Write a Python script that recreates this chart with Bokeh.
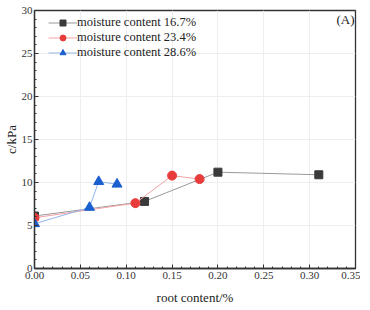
from bokeh.plotting import figure
from bokeh.models import Label, FixedTicker, PrintfTickFormatter, Range1d
from bokeh.embed import file_html
from bokeh.resources import INLINE

# data
x_167 = [0.0, 0.12, 0.20, 0.31]
y_167 = [6.1, 7.8, 11.2, 10.9]
x_234 = [0.0, 0.11, 0.15, 0.18]
y_234 = [5.9, 7.6, 10.8, 10.4]
x_286 = [0.0, 0.06, 0.07, 0.09]
y_286 = [5.2, 7.1, 10.1, 9.8]
labels = ["moisture content 16.7%", "moisture content 23.4%", "moisture content 28.6%"]
x_ticks = [0.0, 0.05, 0.10, 0.15, 0.20, 0.25, 0.30, 0.35]
y_ticks = [0, 5, 10, 15, 20, 25, 30]

FONT = "Liberation Serif"
FRAME_H = 258

p = figure(frame_width=321, frame_height=FRAME_H, output_backend="svg", toolbar_location=None,
           x_range=Range1d(0, 0.35), y_range=Range1d(0, 30),
           min_border_left=28, min_border_right=5, min_border_top=10, min_border_bottom=36)

p.outline_line_color = "#333333"
p.outline_line_width = 1.3

for ax in (p.xaxis[0], p.yaxis[0]):
    ax.axis_line_color = "#333333"
    ax.axis_line_width = 1.3
    ax.major_tick_in = 4
    ax.major_tick_out = 0
    ax.minor_tick_in = 2
    ax.minor_tick_out = 0
    ax.major_tick_line_color = "#333333"
    ax.minor_tick_line_color = "#333333"
    ax.major_label_text_font = FONT
    ax.major_label_text_font_size = "11px"
    ax.major_label_text_color = "#333333"
    ax.axis_label_text_font = FONT
    ax.axis_label_text_font_size = "13px"
    ax.axis_label_text_font_style = "normal"
    ax.axis_label_text_color = "#222222"

p.xaxis.ticker = FixedTicker(ticks=x_ticks, minor_ticks=[i * 0.01 for i in range(36)])
p.yaxis.ticker = FixedTicker(ticks=y_ticks, minor_ticks=list(range(31)))
p.xaxis.formatter = PrintfTickFormatter(format="%.2f")
p.xaxis.axis_label = "root content/%"
p.yaxis.axis_label = "c/kPa"
p.xaxis.major_label_standoff = 3
p.xaxis.axis_label_standoff = 8
p.yaxis.major_label_standoff = 2
p.yaxis.axis_label_standoff = 0

p.xgrid.grid_line_color = "#eeeeee"
p.ygrid.grid_line_color = "#eeeeee"
p.xgrid.ticker = FixedTicker(ticks=x_ticks)
p.ygrid.ticker = FixedTicker(ticks=y_ticks)

p.line(x_167, y_167, line_color="#9a9a9a", line_width=1, legend_label=labels[0])
p.scatter(x_167, y_167, marker="square", size=8, fill_color="#3a3a3a", line_color="#3a3a3a", legend_label=labels[0])
p.line(x_234, y_234, line_color="#f4a3a3", line_width=1, legend_label=labels[1])
p.scatter(x_234, y_234, marker="circle", size=9, fill_color="#e83c3c", line_color="#e83c3c", legend_label=labels[1])
p.line(x_286, y_286, line_color="#93b4ea", line_width=1, legend_label=labels[2])
p.scatter(x_286, y_286, marker="triangle", size=10, fill_color="#1a5fd0", line_color="#1a5fd0", legend_label=labels[2])

lg = p.legend[0]
lg.location = (14, FRAME_H - 4.5 - 45)
lg.border_line_color = None
lg.background_fill_alpha = 0
lg.label_text_font = FONT
lg.label_text_font_size = "12.5px"
lg.label_text_color = "#222222"
lg.glyph_width = 29
lg.glyph_height = 15
lg.label_height = 15
lg.spacing = 0
lg.padding = 0
lg.margin = 0
lg.label_standoff = 0

p.add_layout(Label(x=0.35, y=30, text="(A)", text_align="right", text_baseline="top",
                   x_offset=-1, y_offset=-1, text_font=FONT, text_font_size="13px",
                   text_color="#222222"))

open("out.html", "w").write(file_html(p, INLINE))
